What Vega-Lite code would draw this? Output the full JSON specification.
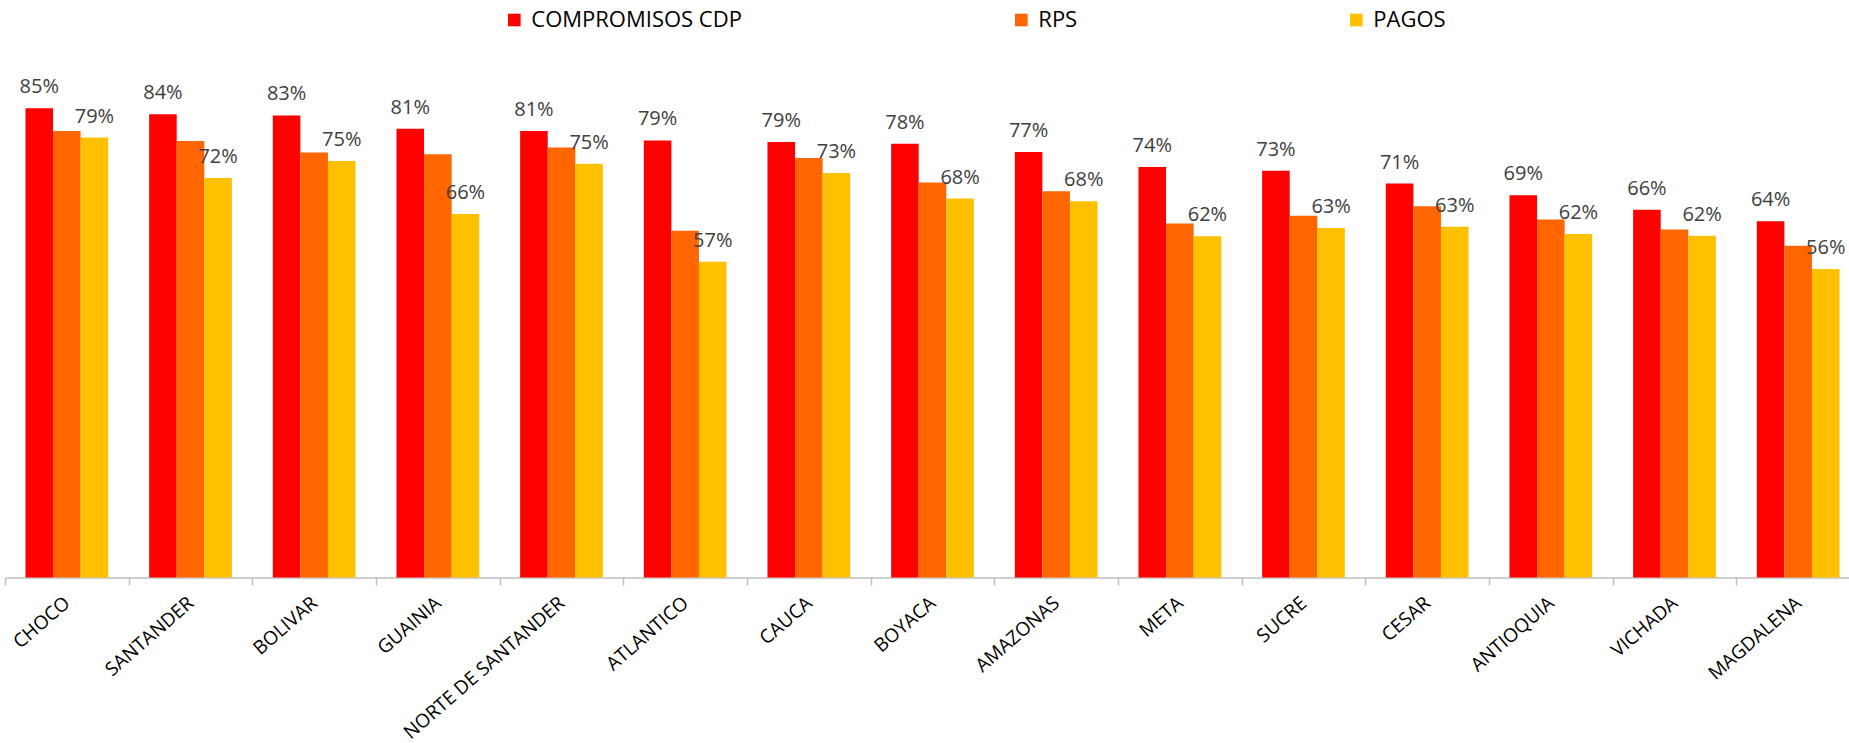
{
  "$schema": "https://vega.github.io/schema/vega-lite/v6.json",
  "autosize": {"type": "none"},
  "padding": {"left": 5, "top": 23.5, "right": 0, "bottom": 165.5},
  "width": 1844,
  "height": 554,
  "background": "#ffffff",
  "config": {"view": {"stroke": null}},
  "data": {"values": [
    {"depto": "CHOCO", "serie": "COMPROMISOS CDP", "valor": 0.847},
    {"depto": "CHOCO", "serie": "RPS", "valor": 0.806},
    {"depto": "CHOCO", "serie": "PAGOS", "valor": 0.794},
    {"depto": "SANTANDER", "serie": "COMPROMISOS CDP", "valor": 0.836},
    {"depto": "SANTANDER", "serie": "RPS", "valor": 0.788},
    {"depto": "SANTANDER", "serie": "PAGOS", "valor": 0.721},
    {"depto": "BOLIVAR", "serie": "COMPROMISOS CDP", "valor": 0.834},
    {"depto": "BOLIVAR", "serie": "RPS", "valor": 0.767},
    {"depto": "BOLIVAR", "serie": "PAGOS", "valor": 0.752},
    {"depto": "GUAINIA", "serie": "COMPROMISOS CDP", "valor": 0.810},
    {"depto": "GUAINIA", "serie": "RPS", "valor": 0.764},
    {"depto": "GUAINIA", "serie": "PAGOS", "valor": 0.656},
    {"depto": "NORTE DE SANTANDER", "serie": "COMPROMISOS CDP", "valor": 0.806},
    {"depto": "NORTE DE SANTANDER", "serie": "RPS", "valor": 0.776},
    {"depto": "NORTE DE SANTANDER", "serie": "PAGOS", "valor": 0.747},
    {"depto": "ATLANTICO", "serie": "COMPROMISOS CDP", "valor": 0.789},
    {"depto": "ATLANTICO", "serie": "RPS", "valor": 0.626},
    {"depto": "ATLANTICO", "serie": "PAGOS", "valor": 0.570},
    {"depto": "CAUCA", "serie": "COMPROMISOS CDP", "valor": 0.786},
    {"depto": "CAUCA", "serie": "RPS", "valor": 0.757},
    {"depto": "CAUCA", "serie": "PAGOS", "valor": 0.730},
    {"depto": "BOYACA", "serie": "COMPROMISOS CDP", "valor": 0.783},
    {"depto": "BOYACA", "serie": "RPS", "valor": 0.713},
    {"depto": "BOYACA", "serie": "PAGOS", "valor": 0.684},
    {"depto": "AMAZONAS", "serie": "COMPROMISOS CDP", "valor": 0.768},
    {"depto": "AMAZONAS", "serie": "RPS", "valor": 0.697},
    {"depto": "AMAZONAS", "serie": "PAGOS", "valor": 0.679},
    {"depto": "META", "serie": "COMPROMISOS CDP", "valor": 0.741},
    {"depto": "META", "serie": "RPS", "valor": 0.639},
    {"depto": "META", "serie": "PAGOS", "valor": 0.616},
    {"depto": "SUCRE", "serie": "COMPROMISOS CDP", "valor": 0.734},
    {"depto": "SUCRE", "serie": "RPS", "valor": 0.653},
    {"depto": "SUCRE", "serie": "PAGOS", "valor": 0.631},
    {"depto": "CESAR", "serie": "COMPROMISOS CDP", "valor": 0.711},
    {"depto": "CESAR", "serie": "RPS", "valor": 0.670},
    {"depto": "CESAR", "serie": "PAGOS", "valor": 0.633},
    {"depto": "ANTIOQUIA", "serie": "COMPROMISOS CDP", "valor": 0.690},
    {"depto": "ANTIOQUIA", "serie": "RPS", "valor": 0.646},
    {"depto": "ANTIOQUIA", "serie": "PAGOS", "valor": 0.620},
    {"depto": "VICHADA", "serie": "COMPROMISOS CDP", "valor": 0.664},
    {"depto": "VICHADA", "serie": "RPS", "valor": 0.628},
    {"depto": "VICHADA", "serie": "PAGOS", "valor": 0.617},
    {"depto": "MAGDALENA", "serie": "COMPROMISOS CDP", "valor": 0.643},
    {"depto": "MAGDALENA", "serie": "RPS", "valor": 0.599},
    {"depto": "MAGDALENA", "serie": "PAGOS", "valor": 0.557}
  ]},
  "encoding": {
    "x": {
      "field": "depto",
      "type": "nominal",
      "sort": null,
      "scale": {"range": [0, 1855], "paddingInner": 0, "paddingOuter": 0},
      "axis": {
        "title": null,
        "labelAngle": -41,
        "labelAlign": "right",
        "labelBaseline": "middle",
        "labelFont": "Open Sans",
        "labelFontSize": 19,
        "labelColor": "#000000",
        "labelPadding": 15,
        "labelLimit": 0,
        "labelOverlap": false,
        "domainColor": "#BFBFBF",
        "domainWidth": 1.5,
        "tickColor": "#BFBFBF",
        "tickWidth": 1.5,
        "tickSize": 7.5,
        "tickBand": "extent"
      }
    },
    "xOffset": {
      "field": "serie",
      "type": "nominal",
      "scale": {"domain": ["COMPROMISOS CDP", "RPS", "PAGOS"], "paddingInner": 0, "paddingOuter": 0.742}
    },
    "y": {
      "field": "valor",
      "type": "quantitative",
      "scale": {"domain": [0, 1], "nice": false, "zero": true},
      "axis": null
    }
  },
  "layer": [
    {
      "mark": {"type": "bar"},
      "encoding": {
        "color": {
          "field": "serie",
          "type": "nominal",
          "scale": {"domain": ["COMPROMISOS CDP", "RPS", "PAGOS"], "range": ["#FF0000", "#FF6600", "#FFC000"]},
          "legend": {
            "title": null,
            "orient": "none",
            "direction": "horizontal",
            "legendX": 498.3,
            "legendY": -14.5,
            "padding": 0,
            "columnPadding": 268,
            "symbolType": "square",
            "symbolSize": 160,
            "symbolStrokeWidth": 0,
            "symbolOpacity": 1,
            "labelFont": "Open Sans",
            "labelFontSize": 22,
            "labelColor": "#000000",
            "labelOffset": 6,
            "labelLimit": 0
          }
        }
      }
    },
    {
      "transform": [{"filter": "datum.serie !== 'RPS'"}],
      "mark": {"type": "text", "baseline": "alphabetic", "align": "center", "dy": -15, "font": "Open Sans", "fontSize": 20, "fill": "#404040"},
      "encoding": {
        "text": {"field": "valor", "type": "quantitative", "format": ".0%"}
      }
    }
  ]
}
